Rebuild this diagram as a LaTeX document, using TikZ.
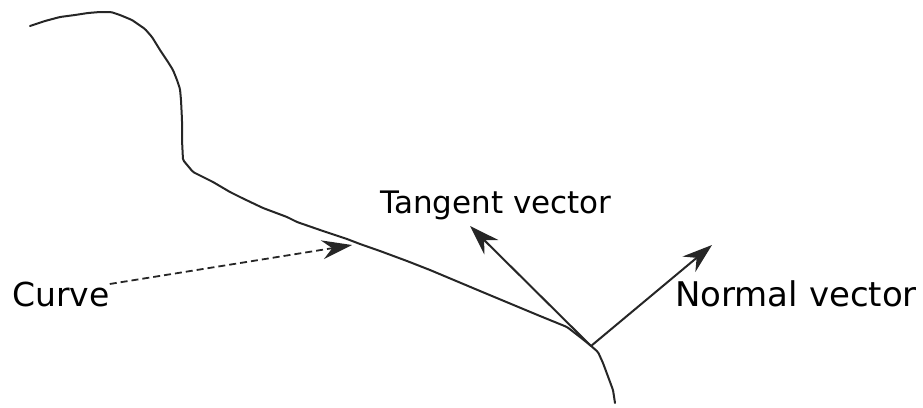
\documentclass[tikz,border=0pt]{standalone}
\usepackage{fontspec}
\setmainfont{DejaVu Sans}
\usetikzlibrary{arrows.meta}
\tikzset{
  curveline/.style={line width=2pt, color=black!85, line join=round, line cap=round, rounded corners=1.5pt},
  vecarrow/.style={line width=2pt, color=black!85, -{Stealth[length=30pt,width=20pt,inset=10pt]}},
  dasharrow/.style={line width=1.8pt, color=black!85, dash pattern=on 7pt off 4pt, -{Stealth[length=30pt,width=19pt,inset=10pt]}},
  lbl/.style={inner sep=0pt, anchor=base west, text=black}
}
\begin{document}
\begin{tikzpicture}[x=1pt,y=-1pt]
\useasboundingbox (0,0) rectangle (923,407);
% the plane curve
\draw[curveline] (30,26) -- (45,21) -- (60,17) -- (75,15) -- (88,13) -- (100,12) -- (111,12)
  -- (120,15) -- (132,20) -- (145,29) -- (152,37) -- (160,50) -- (168,62) -- (173,70)
  -- (177,80) -- (180,89) -- (181,100) -- (182,120) -- (182,140) -- (183,160)
  -- (193,172) -- (213,182) -- (230,192) -- (242,198) -- (263,208) -- (287,217)
  -- (297,222) -- (323,231) -- (347,239) -- (360,244) -- (380,251) -- (407,261)
  -- (430,270) -- (480,291) -- (540,316) -- (567,327) -- (580,337) -- (590,345)
  -- (598,352) -- (603,363) -- (613,390) -- (615,403);
% points used by the arrows
\coordinate (foot) at (591,346);
\coordinate (ttip) at (470,226);
\coordinate (ntip) at (712,245);
\coordinate (onc) at (352,245);
% labels
\node[lbl, font=\fontsize{31}{36}\selectfont] (tangent) at (380,213) {Tangent vector};
\node[lbl, font=\fontsize{34}{40}\selectfont] (normal) at (675,306) {Normal vector};
\node[lbl, font=\fontsize{33}{38}\selectfont] (curve) at (12,306) {Curve};
\coordinate (cstart) at ([yshift=10pt]curve.east);
% vectors
\draw[vecarrow] (foot) -- (ttip);
\draw[vecarrow] (foot) -- (ntip);
\draw[dasharrow] (cstart) -- (onc);
\end{tikzpicture}
\end{document}
